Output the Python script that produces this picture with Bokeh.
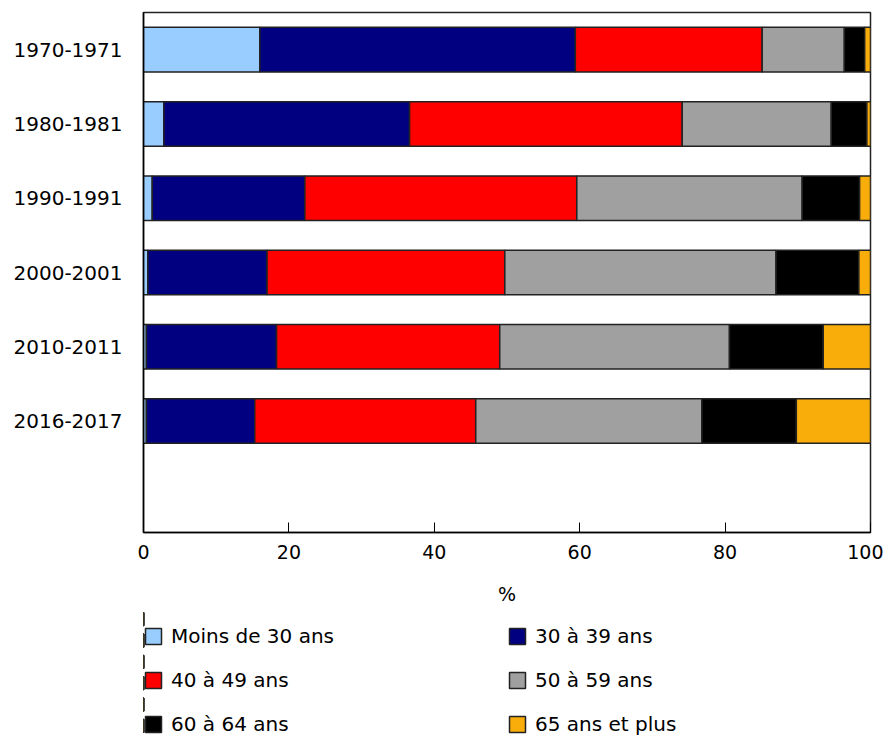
from bokeh.plotting import figure
from bokeh.layouts import column
from bokeh.models import ColumnDataSource, FactorRange, Range1d, FixedTicker, Legend, LegendItem
from bokeh.embed import file_html
from bokeh.resources import INLINE

# ---- data ----
periods = ["1970-1971", "1980-1981", "1990-1991", "2000-2001", "2010-2011", "2016-2017"]
moins30 = [16.0, 2.8, 1.2, 0.6, 0.4, 0.4]
a30_39 = [43.4, 33.8, 21.0, 16.4, 17.9, 14.9]
a40_49 = [25.7, 37.5, 37.4, 32.7, 30.7, 30.4]
a50_59 = [11.3, 20.5, 31.0, 37.3, 31.6, 31.1]
a60_64 = [2.8, 4.9, 7.9, 11.4, 12.9, 13.0]
a65p = [0.8, 0.5, 1.5, 1.6, 6.5, 10.2]
series_labels = ["Moins de 30 ans", "30 à 39 ans", "40 à 49 ans",
                 "50 à 59 ans", "60 à 64 ans", "65 ans et plus"]
x_ticks = [0, 20, 40, 60, 80, 100]

stackers = ["moins30", "a30_39", "a40_49", "a50_59", "a60_64", "a65p"]
colors = ["#99CCFF", "#000080", "#FF0000", "#A0A0A0", "#000000", "#F8AD0B"]

source = ColumnDataSource(dict(period=periods, moins30=moins30, a30_39=a30_39,
                               a40_49=a40_49, a50_59=a50_59, a60_64=a60_64, a65p=a65p))

factors = [" "] + periods[::-1]

FONT = "DejaVu Sans"
W = 883

# ---- main chart ----
p = figure(width=W, height=608,
           y_range=FactorRange(factors=factors, range_padding=0),
           x_range=Range1d(0, 100),
           output_backend="svg", toolbar_location=None,
           min_border_left=143, min_border_right=13, min_border_top=12,
           min_border_bottom=76)

renderers = p.hbar_stack(stackers, y="period", height=0.6, fill_color=colors,
                         line_color="#222222", line_width=1.5, source=source)

p.grid.visible = False
p.outline_line_color = "#222222"
p.outline_line_width = 1.5
p.background_fill_color = "white"
p.border_fill_color = "white"

p.xaxis.ticker = FixedTicker(ticks=x_ticks)
p.xaxis.major_tick_in = 10
p.xaxis.major_tick_out = 0
p.xaxis.minor_tick_line_color = None
p.xaxis.axis_line_color = "black"
p.xaxis.axis_line_width = 1.5
p.xaxis.major_tick_line_color = "black"
p.xaxis.major_label_standoff = 12
p.xaxis.major_label_text_font = FONT
p.xaxis.major_label_text_font_size = "19px"
p.xaxis.major_label_text_color = "black"
p.xaxis.axis_label = "%"
p.xaxis.axis_label_standoff = 21
p.xaxis.axis_label_text_font = FONT
p.xaxis.axis_label_text_font_size = "19px"
p.xaxis.axis_label_text_font_style = "normal"
p.xaxis.axis_label_text_color = "black"

p.yaxis.major_tick_line_color = None
p.yaxis.major_tick_out = 0
p.yaxis.major_tick_in = 0
p.yaxis.minor_tick_line_color = None
p.yaxis.axis_line_color = "black"
p.yaxis.axis_line_width = 1.5
p.yaxis.major_label_standoff = 21
p.yaxis.major_label_text_font = FONT
p.yaxis.major_label_text_font_size = "20px"
p.yaxis.major_label_text_color = "black"

# ---- legend strip below the chart ----
# It holds the same stacked series, with a data window that keeps the bars out of
# view, so that only the legend (swatches + labels) shows.
lg = figure(width=W, height=128, output_backend="svg", toolbar_location=None,
            x_axis_type=None, y_axis_type=None, min_border=0,
            y_range=FactorRange(factors=periods), x_range=Range1d(200, 300),
            outline_line_color=None)
lg.grid.visible = False
lg.border_fill_color = "white"
lg.background_fill_color = "white"
legend_renderers = lg.hbar_stack(stackers, y="period", height=0.6, fill_color=colors,
                                 line_color="#222222", line_width=1.5, source=source)
items = [LegendItem(label=lab, renderers=[r]) for lab, r in zip(series_labels, legend_renderers)]
legend = Legend(items=items, location=(0, 0), orientation="horizontal", ncols=2,
                glyph_width=20, glyph_height=20, label_standoff=8, label_width=316,
                spacing=20, padding=0, margin=0, border_line_color=None,
                background_fill_alpha=0, label_text_font=FONT,
                label_text_font_size="20px", label_text_color="black")
lg.add_layout(legend, "center")

layout = column(p, lg, spacing=0)

open("out.html", "w").write(file_html(layout, INLINE))
